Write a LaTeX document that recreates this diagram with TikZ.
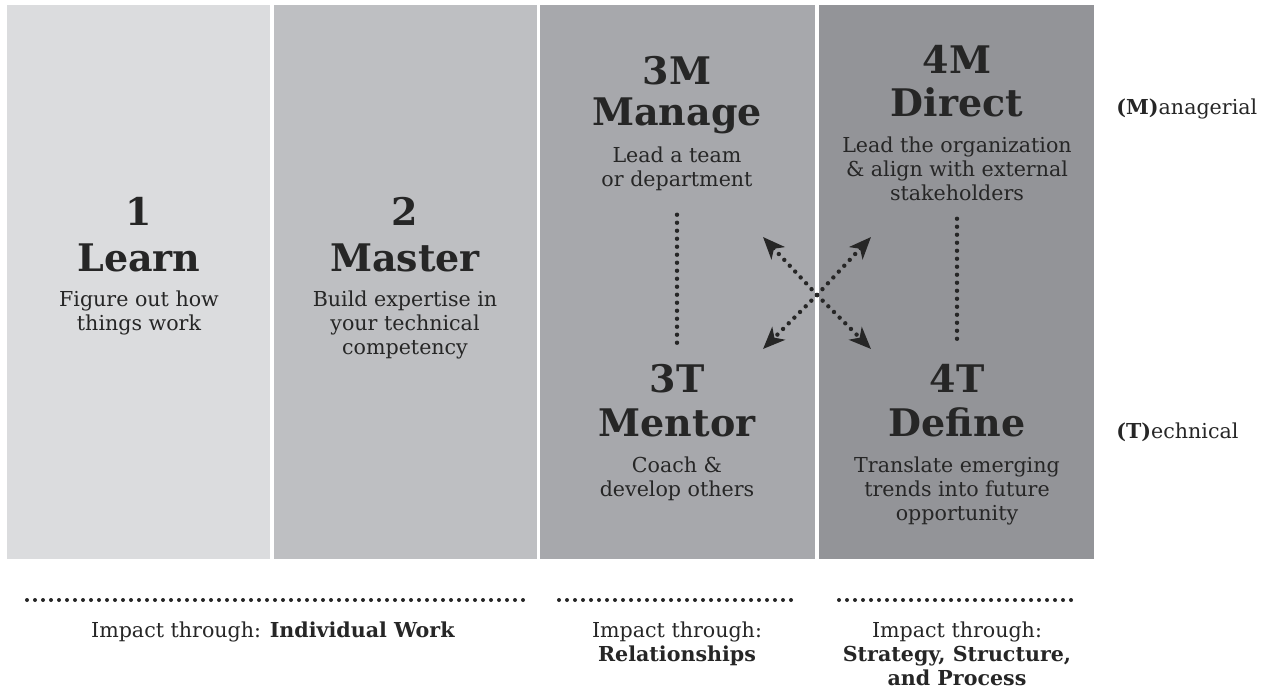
\documentclass[tikz,border=0pt]{standalone}
\usepackage{fontspec}
\setmainfont{DejaVu Serif}
\usetikzlibrary{arrows.meta}

\definecolor{ink}{HTML}{262626}
\definecolor{stageone}{HTML}{DBDCDE}
\definecolor{stagetwo}{HTML}{BEBFC2}
\definecolor{stagethree}{HTML}{A7A8AC}
\definecolor{stagefour}{HTML}{939498}

\newcommand{\levelfont}{\bfseries\fontsize{19}{21}\selectfont}
\newcommand{\blurbfont}{\fontsize{10.3}{12}\selectfont}

\begin{document}
\begin{tikzpicture}[x=0.5pt,y=-0.5pt]
\tikzstyle{every node}=[text=ink, inner sep=0pt, align=center]
\tikzstyle{level}=[anchor=base, font=\levelfont]
\tikzstyle{blurb}=[anchor=north, font=\blurbfont]
\tikzstyle{track}=[anchor=base west, font=\blurbfont]
\tikzstyle{dots}=[draw=ink, line width=2.2pt, line cap=round, dash pattern=on 0pt off 4pt]
\tikzstyle{rule}=[draw=ink, line width=2pt, line cap=round, dash pattern=on 0pt off 4pt]
\tikzstyle{swap}=[dots, -{Stealth[length=11pt, width=9pt, inset=3pt]}]
\useasboundingbox (0,0) rectangle (1269,692);

% the four stages
\fill[stageone] (7,5) rectangle (270,559);
\fill[stagetwo] (274,5) rectangle (537,559);
\fill[stagethree] (540,5) rectangle (815,559);
\fill[stagefour] (819,5) rectangle (1094,559);

% stage 1 and 2
\node (num1) [level] at (139,225) {1};
\node (learn) [level] at (139,271) {Learn};
\node (learnb) [blurb] at (139,290) {Figure out how\\things work};
\node (num2) [level] at (405,225) {2};
\node (master) [level] at (405,271) {Master};
\node (masterb) [blurb] at (405,290) {Build expertise in\\your technical\\competency};

% stage 3
\node (num3m) [level] at (677,84) {3M};
\node (manage) [level] at (677,125) {Manage};
\node (manageb) [blurb] at (677,146) {Lead a team\\or department};
\node (num3t) [level] at (677,392) {3T};
\node (mentor) [level] at (677,436) {Mentor};
\node (mentorb) [blurb] at (677,456) {Coach \&\\develop others};

% stage 4
\node (num4m) [level] at (957,73) {4M};
\node (direct) [level] at (957,116) {Direct};
\node (directb) [blurb] at (957,136) {Lead the organization\\\& align with external\\stakeholders};
\node (num4t) [level] at (957,392) {4T};
\node (define) [level] at (957,436) {Define};
\node (defineb) [blurb] at (957,456) {Translate emerging\\trends into future\\opportunity};

% M and T tracks
\node (mtrack) [track] at (1116,114) {\textbf{(M)}anagerial};
\node (ttrack) [track] at (1116,438) {\textbf{(T)}echnical};

% links inside a stage
\draw[dots, shorten <=12pt, shorten >=10pt] (manageb) -- (num3t);
\draw[dots, shorten <=9pt, shorten >=10pt] (directb) -- (num4t);

% switching between tracks
\coordinate (hub) at (817,295);
\coordinate (tomanage) at (763,237);
\coordinate (todirect) at (871,237);
\coordinate (tomentor) at (763,349);
\coordinate (todefine) at (871,349);
\draw[swap] (hub) -- (tomanage);
\draw[swap] (hub) -- (todirect);
\draw[swap] (hub) -- (tomentor);
\draw[swap] (hub) -- (todefine);

% impact rules
\coordinate (r1a) at (27,600);
\coordinate (r1b) at (523,600);
\coordinate (r2a) at (559,600);
\coordinate (r2b) at (798,600);
\coordinate (r3a) at (839,600);
\coordinate (r3b) at (1075,600);
\draw[rule] (r1a) -- (r1b);
\draw[rule] (r2a) -- (r2b);
\draw[rule] (r3a) -- (r3b);

\node (impact1) [anchor=base, font=\blurbfont] at (273,637) {Impact through: \textbf{Individual Work}};
\node (impact2) [anchor=north, font=\blurbfont] at (677,621) {Impact through:\\\textbf{Relationships}};
\node (impact3) [anchor=north, font=\blurbfont] at (957,621) {Impact through:\\\textbf{Strategy, Structure,}\\\textbf{and Process}};
\end{tikzpicture}
\end{document}
